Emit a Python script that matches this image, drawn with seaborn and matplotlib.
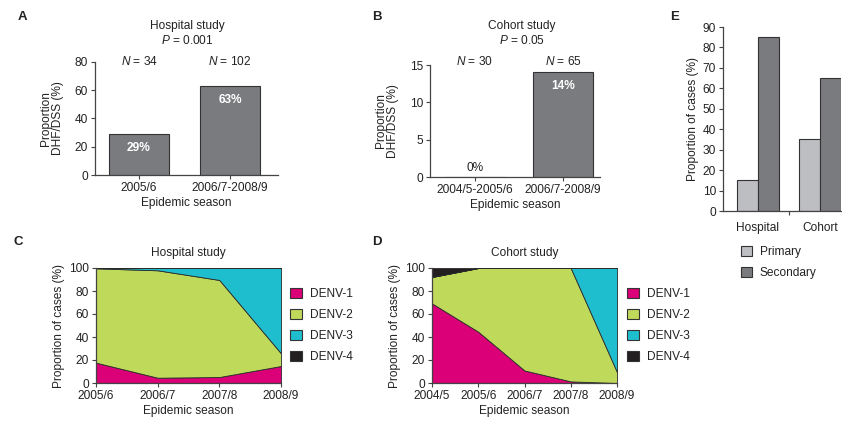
import matplotlib
matplotlib.use("Agg")
import matplotlib.pyplot as plt
from matplotlib.patches import Patch
import pandas as pd
import seaborn as sns

# ---- data ----
a_seasons = ["2005/6", "2006/7-2008/9"]
a_dhf = [29, 63]
a_n = [34, 102]

b_seasons = ["2004/5-2005/6", "2006/7-2008/9"]
b_dhf = [0, 14]
b_n = [30, 65]

hosp_seasons = ["2005/6", "2006/7", "2007/8", "2008/9"]
hosp_denv1 = [17.7, 4.6, 5.2, 14.8]
hosp_denv2 = [82.0, 93.4, 84.4, 11.0]
hosp_denv3 = [0.3, 2.0, 10.4, 74.2]
hosp_denv4 = [0, 0, 0, 0]

coh_seasons = ["2004/5", "2005/6", "2006/7", "2007/8", "2008/9"]
coh_denv1 = [69.2, 44.6, 10.9, 1.4, 0.0]
coh_denv2 = [23.0, 55.4, 89.1, 98.6, 9.5]
coh_denv3 = [0, 0, 0, 0, 90.5]
coh_denv4 = [7.8, 0, 0, 0, 0]

serotypes = ["DENV-1", "DENV-2", "DENV-3", "DENV-4"]

e_study = ["Hospital", "Hospital", "Cohort", "Cohort"]
e_type = ["Primary", "Secondary", "Primary", "Secondary"]
e_prop = [15, 85, 35, 65]

# ---- style ----
sns.set_theme(style="ticks")
plt.rcParams["font.family"] = ["Liberation Sans", "DejaVu Sans"]
plt.rcParams["mathtext.fontset"] = "custom"
plt.rcParams["mathtext.it"] = "Liberation Sans:italic"
plt.rcParams["mathtext.rm"] = "Liberation Sans"
FS = 8.6
TXT = "#222222"
DARK = "#7a7b7f"
LIGHT = "#bdbec2"
EDGE = "#333333"
sero_colors = ["#dc0078", "#bfd95b", "#1fbecf", "#231f20"]

W, H = 842, 424
fig = plt.figure(figsize=(W / 100, H / 100), dpi=100, facecolor="white")


def box(l, t, r, b):
    return [l / W, 1 - b / H, (r - l) / W, (b - t) / H]


def ftxt(x, y, s, **kw):
    kw.setdefault("ha", "center")
    kw.setdefault("va", "center")
    kw.setdefault("fontsize", FS)
    kw.setdefault("color", TXT)
    fig.text(x / W, 1 - y / H, s, **kw)


def style_ax(ax):
    sns.despine(ax=ax)
    for s in ["left", "bottom"]:
        ax.spines[s].set_color("#444444")
        ax.spines[s].set_linewidth(0.9)
    ax.tick_params(direction="out", length=3, width=0.8, colors="#444444",
                   labelsize=FS, labelcolor=TXT, pad=2)
    ax.set_facecolor("white")


# ---- panel A ----
axA = fig.add_axes(box(95, 62, 278, 175))
dfa = pd.DataFrame({"season": a_seasons, "dhf": a_dhf})
sns.barplot(data=dfa, x="season", y="dhf", color=DARK, saturation=1,
            width=0.66, edgecolor=EDGE, linewidth=0.8, ax=axA)
axA.set_xlim(-0.484, 1.527)
axA.set_ylim(0, 80)
axA.set_yticks([0, 20, 40, 60, 80])
axA.set_xlabel("Epidemic season", fontsize=FS, color=TXT, labelpad=2)
axA.set_ylabel("Proportion\nDHF/DSS (%)", fontsize=FS, color=TXT, labelpad=8,
               linespacing=1.0)
style_ax(axA)
for i, (v, n) in enumerate(zip(a_dhf, a_n)):
    axA.annotate(f"{v}%", (i, v), xytext=(0, -10), textcoords="offset points",
                 ha="center", va="center", color="white", fontweight="bold",
                 fontsize=FS)
    axA.text(i, 1.0, f"$N$ = {n}", transform=axA.get_xaxis_transform(),
             ha="center", va="center", fontsize=FS, color=TXT)
ftxt(187, 26, "Hospital study")
ftxt(187, 41, "$P$ = 0.001")
ftxt(18, 17, "A", fontweight="bold", fontsize=9.5, ha="left")

# ---- panel B ----
axB = fig.add_axes(box(430, 65, 600, 177))
dfb = pd.DataFrame({"season": b_seasons, "dhf": b_dhf})
sns.barplot(data=dfb, x="season", y="dhf", color=DARK, saturation=1,
            width=0.68, edgecolor=EDGE, linewidth=0.8, ax=axB)
axB.set_xlim(-0.51, 1.42)
axB.set_ylim(0, 15)
axB.set_yticks([0, 5, 10, 15])
axB.set_xlabel("Epidemic season", fontsize=FS, color=TXT, labelpad=2)
axB.set_ylabel("Proportion\nDHF/DSS (%)", fontsize=FS, color=TXT, labelpad=8,
               linespacing=1.0)
style_ax(axB)
for i, (v, n) in enumerate(zip(b_dhf, b_n)):
    if v > 0:
        axB.annotate(f"{v}%", (i, v), xytext=(0, -10), textcoords="offset points",
                     ha="center", va="center", color="white", fontweight="bold",
                     fontsize=FS)
    else:
        axB.annotate(f"{v}%", (i, v), xytext=(0, 6.5), textcoords="offset points",
                     ha="center", va="center", color=TXT, fontsize=FS)
    axB.text(i, 1.027, f"$N$ = {n}", transform=axB.get_xaxis_transform(),
             ha="center", va="center", fontsize=FS, color=TXT)
ftxt(522, 26, "Cohort study")
ftxt(522, 41, "$P$ = 0.05")
ftxt(372, 17, "B", fontweight="bold", fontsize=9.5, ha="left")

# ---- panel E ----
axE = fig.add_axes(box(723, 27, 841, 211))
dfe = pd.DataFrame({"study": e_study, "type": e_type, "prop": e_prop})
sns.barplot(data=dfe, x="study", y="prop", hue="type",
            palette=[LIGHT, DARK], saturation=1, width=0.67,
            edgecolor=EDGE, linewidth=0.8, legend=False, ax=axE)
axE.set_xlim(-0.56, 1.33)
axE.set_ylim(0, 90)
axE.set_yticks(range(0, 91, 10))
axE.set_xlabel("")
axE.set_ylabel("Proportion of cases (%)", fontsize=FS, color=TXT, labelpad=3)
style_ax(axE)
axE.tick_params(axis="x", length=0, pad=8)
axE.set_xticks([0.5], minor=True)
axE.tick_params(axis="x", which="minor", length=3, width=0.8, colors="#444444")
e_handles = [Patch(facecolor=c, edgecolor=EDGE, linewidth=0.8) for c in [LIGHT, DARK]]
fig.legend(e_handles, ["Primary", "Secondary"], loc="center left",
           bbox_to_anchor=(741 / W, 1 - 262.5 / H), bbox_transform=fig.transFigure,
           frameon=False, fontsize=FS, borderpad=0, borderaxespad=0,
           handlelength=0.95, handleheight=0.9, handletextpad=0.6,
           labelspacing=0.7, labelcolor=TXT)
ftxt(670, 17, "E", fontweight="bold", fontsize=9.5, ha="left")


# ---- panels C and D ----
def area_panel(ax, seasons, layers):
    ax.stackplot(range(len(seasons)), *layers, colors=sero_colors,
                 edgecolor="#2a2a2a", linewidth=0.6)
    ax.set_xlim(0, len(seasons) - 1)
    ax.set_ylim(0, 100)
    ax.set_xticks(range(len(seasons)))
    ax.set_xticklabels(seasons)
    ax.set_yticks(range(0, 101, 20))
    ax.set_xlabel("Epidemic season", fontsize=FS, color=TXT, labelpad=2)
    ax.set_ylabel("Proportion of cases (%)", fontsize=FS, color=TXT, labelpad=3)
    style_ax(ax)


def sero_legend(x_px):
    handles = [Patch(facecolor=c, edgecolor=EDGE, linewidth=0.8) for c in sero_colors]
    fig.legend(handles, serotypes, loc="center left",
               bbox_to_anchor=(x_px / W, 1 - 325.5 / H), bbox_transform=fig.transFigure,
               frameon=False, fontsize=FS, borderpad=0, borderaxespad=0,
               handlelength=1.0, handleheight=0.9, handletextpad=0.7,
               labelspacing=0.75, labelcolor=TXT)


axC = fig.add_axes(box(96, 268, 281, 383))
area_panel(axC, hosp_seasons, [hosp_denv1, hosp_denv2, hosp_denv3, hosp_denv4])
sero_legend(290)
ftxt(188, 253, "Hospital study")
ftxt(14, 242, "C", fontweight="bold", fontsize=9.5, ha="left")

axD = fig.add_axes(box(432, 268, 617, 383))
area_panel(axD, coh_seasons, [coh_denv1, coh_denv2, coh_denv3, coh_denv4])
sero_legend(627)
ftxt(525, 253, "Cohort study")
ftxt(372, 242, "D", fontweight="bold", fontsize=9.5, ha="left")

fig.savefig("out.png", dpi=100, facecolor="white")
